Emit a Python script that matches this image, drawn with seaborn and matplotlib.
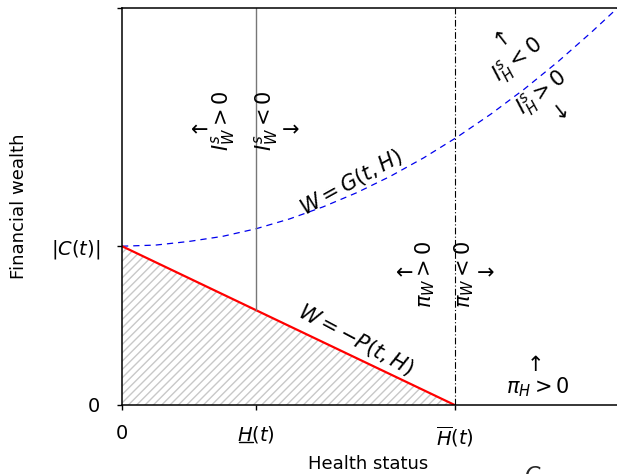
import matplotlib
matplotlib.use("Agg")
import matplotlib.pyplot as plt
import matplotlib.transforms as mtransforms
from matplotlib.lines import Line2D
import seaborn as sns
import pandas as pd
import numpy as np

# ---- data (units: H_low = 1, C(t) = 1) ----
H_low = 1.0
H_bar = 2.48
C_val = 1.0
x_max = 3.69
y_top = 2.5

G_x = [0.0, 0.25, 0.5, 0.75, 1.0, 1.25, 1.5, 1.75, 2.0, 2.25, 2.5, 2.75, 3.0, 3.25, 3.5, 3.69]
G_y = [1.0, 1.007, 1.03, 1.062, 1.11, 1.172, 1.248, 1.337, 1.44, 1.557, 1.688, 1.832, 1.99, 2.162, 2.348, 2.497]

P_x = [0.0, H_bar]
P_y = [C_val, 0.0]

x_tick_pos = [0.0, H_low, H_bar]
x_tick_lab = ["0", r"$H(t)$", r"$\overline{H}(t)$"]
y_tick_pos = [0.0, C_val, y_top]
y_tick_lab = ["0", r"$|C(t)|$", ""]

sns.set_theme(style="white")
plt.rcParams['font.family'] = ['DejaVu Sans']
plt.rcParams['mathtext.fontset'] = 'dejavusans'

fig = plt.figure(figsize=(6.17, 4.74), dpi=100)
ax = fig.add_axes([122/617, 1-405/474, (617-122)/617, (405-8)/474])

# hatched region under the -P line
ax.fill_between(P_x, P_y, 0, facecolor="none", edgecolor="#c8c8c8", hatch="////", linewidth=0)

gdf = pd.DataFrame({"H": G_x, "W": G_y})
sns.lineplot(data=gdf, x="H", y="W", ax=ax, color="#0000ee", linestyle=(0, (5, 4)), linewidth=0.9)
pdf = pd.DataFrame({"H": P_x, "W": P_y})
sns.lineplot(data=pdf, x="H", y="W", ax=ax, color="red", linewidth=1.6)

# vertical lines
ax.plot([H_low, H_low], [C_val * (1 - H_low / H_bar), y_top], color="#777777", linewidth=1.0)
ax.plot([H_bar, H_bar], [0, y_top], color="black", linestyle=(0, (6, 2, 1, 2)), linewidth=0.8)

ax.set_xlim(0, x_max)
ax.set_ylim(0, y_top)
ax.set_xticks(x_tick_pos)
ax.set_xticklabels(x_tick_lab, fontsize=14, color="black")
ax.set_yticks(y_tick_pos)
ax.set_yticklabels(y_tick_lab, fontsize=14, color="black")
ax.tick_params(direction="out", length=3.6, width=1, color="black", bottom=True, left=True)
ax.tick_params(axis="y", pad=12)
ax.tick_params(axis="x", pad=10)

# underline under the H of the H_low tick label
blend = mtransforms.blended_transform_factory(ax.transData, fig.transFigure)
ax.add_line(Line2D([H_low - 0.125, H_low - 0.02], [1 - 442/474] * 2, transform=blend,
                   color="black", linewidth=1.0, clip_on=False))

for s in ["left", "bottom", "top"]:
    ax.spines[s].set_visible(True)
    ax.spines[s].set_color("black")
    ax.spines[s].set_linewidth(1.1)
ax.spines["right"].set_visible(False)

ax.set_xlabel("Health status", fontsize=13, color="black")
ax.set_ylabel("Financial wealth", fontsize=13, color="black")
ax.xaxis.set_label_coords(0.497, -0.125)
ax.yaxis.set_label_coords(-0.19, 0.5)

fs = 15
k = dict(fontsize=fs, ha="center", va="center", color="black")
ax.text(0.75, 1.79, r"$I_W^s > 0$", rotation=90, **k)
ax.text(0.58, 1.73, "←", **k)
ax.text(1.07, 1.79, r"$I_W^s < 0$", rotation=90, **k)
ax.text(1.26, 1.73, "→", **k)

ax.text(2.26, 0.824, r"$\pi_W > 0$", rotation=90, **k)
ax.text(2.11, 0.83, "←", **k)
ax.text(2.55, 0.824, r"$\pi_W < 0$", rotation=90, **k)
ax.text(2.71, 0.83, "→", **k)

ax.text(2.95, 2.17, r"$I_H^s < 0$", rotation=38, **k)
ax.text(2.83, 2.32, "↑", rotation=38, **k)
ax.text(3.13, 1.96, r"$I_H^s > 0$", rotation=38, **k)
ax.text(3.27, 1.86, "↓", rotation=38, **k)

ax.text(1.71, 1.40, r"$W = G(t, H)$", rotation=29, **k)
ax.text(1.74, 0.41, r"$W = -P(t, H)$", rotation=-28, **k)

ax.text(3.10, 0.11, r"$\pi_H > 0$", **k)
ax.text(3.08, 0.25, "↑", **k)

fig.text(532/617, 1-466/474, "C", fontsize=16, ha="center", va="top", style="italic")

fig.savefig("out.png", dpi=100)
